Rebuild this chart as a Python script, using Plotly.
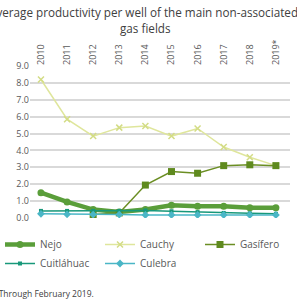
import plotly.graph_objects as go

years = ["2010", "2011", "2012", "2013", "2014", "2015", "2016", "2017", "2018", "2019*"]
nejo = [1.5, 0.95, 0.5, 0.35, 0.5, 0.75, 0.7, 0.7, 0.6, 0.6]
cauchy = [8.2, 5.85, 4.85, 5.35, 5.45, 4.85, 5.3, 4.2, 3.6, 3.1]
gasifero = [None, None, 0.2, 0.3, 1.95, 2.75, 2.65, 3.1, 3.15, 3.1]
cuitlahuac = [0.42, 0.42, 0.42, 0.42, 0.45, 0.4, 0.35, 0.3, 0.28, 0.25]
culebra = [0.25, 0.22, 0.2, 0.2, 0.18, 0.18, 0.18, 0.18, 0.18, 0.18]

idx = list(range(len(years)))
fig = go.Figure()
fig.add_trace(go.Scatter(x=idx, y=nejo, name="Nejo", mode="lines+markers", legend="legend",
                         line=dict(color="#5a9e3a", width=4.5),
                         marker=dict(symbol="circle", size=7, color="#5a9e3a")))
fig.add_trace(go.Scatter(x=idx, y=cauchy, name="Cauchy", mode="lines+markers", legend="legend2",
                         line=dict(color="#dfe69c", width=1.5),
                         marker=dict(symbol="x-thin", size=6, line=dict(color="#d3dc85", width=1.5))))
fig.add_trace(go.Scatter(x=idx, y=gasifero, name="Gasífero", mode="lines+markers", legend="legend3",
                         line=dict(color="#6b8e23", width=1.5),
                         marker=dict(symbol="square", size=7, color="#5f8a1e")))
fig.add_trace(go.Scatter(x=idx, y=cuitlahuac, name="Cuitláhuac", mode="lines+markers", legend="legend",
                         line=dict(color="#18987a", width=1.5),
                         marker=dict(symbol="square", size=4, color="#18987a")))
fig.add_trace(go.Scatter(x=idx, y=culebra, name="Culebra", mode="lines+markers", legend="legend2",
                         line=dict(color="#4ab6c6", width=1.5),
                         marker=dict(symbol="diamond", size=6, color="#4ab6c6")))

leg_common = dict(orientation="v", xanchor="left", yanchor="top", y=-(230 - 218) / 152,
                  itemwidth=30, font=dict(size=10, color="#595959"), tracegroupgap=0,
                  bgcolor="rgba(0,0,0,0)")

fig.update_layout(
    width=297, height=302,
    margin=dict(l=30, r=7, t=66, b=84, autoexpand=False),
    paper_bgcolor="white", plot_bgcolor="white",
    font=dict(family="Open Sans", color="#595959", size=9),
    showlegend=True,
    legend=dict(x=(0 - 30) / 260, **leg_common),
    legend2=dict(x=(100 - 30) / 260, **leg_common),
    legend3=dict(x=(200 - 30) / 260, **leg_common),
    xaxis=dict(side="top", tickmode="array", tickvals=idx, ticktext=years, tickangle=-90,
               range=[-0.42, 9.54], showgrid=False, zeroline=False, showline=False,
               ticks="", automargin=False, tickfont=dict(size=9, color="#595959")),
    yaxis=dict(range=[0, 9], dtick=1, tickformat=".1f", showgrid=True, gridcolor="#d9d9d9",
               gridwidth=1.5, zeroline=False, showline=False, ticks="", automargin=False,
               tickfont=dict(size=9, color="#595959")),
    annotations=[
        dict(text="Average productivity per well of the main non-associated", xref="paper", yref="paper",
             x=(143 - 30) / 260, y=1 + (66 - 12) / 152, xanchor="center", yanchor="middle",
             showarrow=False, font=dict(size=11.7, color="#404040")),
        dict(text="gas fields", xref="paper", yref="paper",
             x=(145 - 30) / 260, y=1 + (66 - 28) / 152, xanchor="center", yanchor="middle",
             showarrow=False, font=dict(size=11.7, color="#404040")),
        dict(text="*Through February 2019.", xref="paper", yref="paper",
             x=-38/260, y=-(293 - 218) / 152, xanchor="left", yanchor="middle", showarrow=False,
             font=dict(size=8.5, color="#404040")),
    ],
)
fig.write_html("out.html", config={"displayModeBar": False},
               post_script="document.body.style.margin='0';")
